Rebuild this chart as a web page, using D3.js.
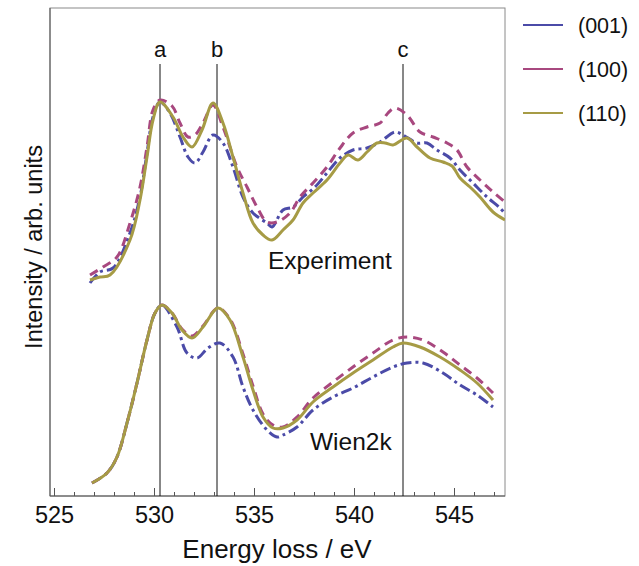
<!DOCTYPE html>
<html>
<head>
<meta charset="utf-8">
<script src="https://cdn.jsdelivr.net/npm/d3@7"></script>
<style>
  body { margin: 0; background: #fff; }
  svg text { font-family: "Liberation Sans", Arial, sans-serif; fill: #111; }
</style>
</head>
<body>
<svg id="chart" width="639" height="566"></svg>
<script>
// series names, colours and dash styles of the legend
var seriesNames = ["(001)", "(100)", "(110)"];
var seriesColors = ["#4b4ba8", "#a8487f", "#a69b45"];
var seriesDash = ["11,4,3,4", "9,6", null];

// experiment spectra, [energy eV, intensity]
var exp001 = [[526.8,53.25],[527.3,56],[527.95,57],[528.8,65.75],[529.3,74.75],[529.65,85.75],[529.95,94.75],[530.3,98.5],[530.8,95.75],[531.3,89.75],[531.7,84.75],[532.05,83.25],[532.45,86],[532.95,90.25],[533.45,88.25],[533.95,82.25],[534.45,74.75],[534.95,70.75],[535.65,68.25],[535.9,67.25],[536.45,71.5],[536.95,72.25],[537.45,74.75],[538.05,77.25],[538.65,80.75],[539.3,84.5],[539.95,86.5],[540.65,87],[541.3,88.5],[542.05,91],[542.45,90.25],[543.15,88.25],[543.65,88.25],[544.15,86.5],[544.8,84.5],[545.3,81.5],[545.95,78.25],[546.65,74.75],[547.3,72],[547.6,70.25]];
var exp100 = [[526.8,55.25],[527.45,57.25],[528.15,59.75],[528.8,68.25],[529.3,77.25],[529.65,87.25],[529.95,96.5],[530.3,99],[530.9,97.5],[531.3,93.25],[531.7,89.75],[532.05,90.25],[532.45,93.25],[532.95,97.75],[533.45,92.25],[534.15,82.25],[534.65,77.25],[535.15,72.25],[535.65,68.5],[536.15,68.5],[536.8,70.75],[537.3,74.75],[537.95,78.25],[538.65,82.25],[539.3,87],[539.95,90.75],[540.65,92.25],[541.3,93.25],[541.7,95.75],[542.05,97],[542.65,95.25],[543.3,91],[543.95,89.75],[544.65,88.25],[545.15,86.5],[545.65,82.25],[546.3,79],[546.95,76],[547.55,73.5]];
var exp110 = [[526.8,54],[527.3,54.75],[527.8,55.25],[528.8,64],[529.3,74],[529.65,84.75],[529.95,94],[530.3,98.5],[530.95,94.75],[531.45,89.75],[531.9,87.25],[532.4,91.5],[532.95,98.25],[533.45,93.25],[533.95,84.75],[534.45,75.75],[534.95,68.25],[535.45,65.25],[535.9,64],[536.45,66.5],[536.95,69],[537.45,73.25],[537.95,75.75],[538.65,79],[539.3,83.25],[539.7,85.25],[540.2,84],[540.65,86],[541.15,88.25],[541.55,88.25],[541.95,87.75],[542.65,89.5],[543.15,87.25],[543.8,84.5],[544.45,83.5],[544.9,82.5],[545.3,79.5],[545.8,77.25],[546.3,74.75],[546.95,71],[547.55,69]];

// Wien2k calculated spectra
var calc001 = [[526.9,3.25],[527.65,5.75],[528.15,9.75],[528.65,18.25],[529.15,28.25],[529.65,39],[530.05,45.75],[530.4,47.75],[531.15,42.25],[531.65,35.75],[532.15,34.5],[532.7,37],[533.3,38.25],[533.95,34.75],[534.45,27.25],[534.95,21.5],[535.65,16.5],[536.15,14.75],[536.45,15.25],[537.15,17.25],[537.95,21.5],[538.95,24.75],[539.95,27],[540.95,29.75],[541.95,32.25],[542.65,33.25],[543.45,33.25],[544.45,30.75],[545.3,27.75],[546.15,25.25],[546.95,22.25]];
var calc100 = [[526.9,3.25],[527.65,5.75],[528.15,9.75],[528.65,18.25],[529.15,28.25],[529.65,39],[530.05,45.75],[530.4,47.75],[530.9,45.75],[531.4,41.75],[531.9,40],[532.45,42.5],[533.2,47],[533.8,44.25],[534.45,35.5],[534.95,27.5],[535.45,20.5],[535.95,17.75],[536.45,17.25],[537.15,19.75],[537.95,24.5],[538.95,28.5],[539.95,32.25],[540.95,35.75],[541.95,39],[542.65,39.75],[543.45,39],[544.45,36],[545.3,32.75],[546.15,29.5],[546.95,25.75]];
var calc110 = [[526.9,3.25],[527.65,5.75],[528.15,9.75],[528.65,18.25],[529.15,28.25],[529.65,39],[530.05,45.75],[530.4,47.75],[530.9,45.75],[531.4,41.5],[531.9,39.5],[532.45,42.25],[533.2,47],[533.8,44],[534.45,34.75],[534.95,26.5],[535.45,19.75],[535.95,17],[536.45,17],[537.15,19],[537.95,23.5],[538.95,27.25],[539.95,30.75],[540.95,34],[541.95,37.25],[542.45,38.25],[543.3,37.25],[544.3,34.75],[545.3,31.5],[546.15,28.25],[546.95,24]];

// marker lines a, b, c
var peakNames = ["a", "b", "c"];
var peakEnergies = [530.3, 533.15, 542.45];

var xTicks = [525, 530, 535, 540, 545];

var svg = d3.select("#chart");
var frame = { left: 50, top: 8, right: 505, bottom: 496 };

var x = d3.scaleLinear().domain([524.8, 547.55]).range([frame.left, frame.right]);
var y = d3.scaleLinear().domain([0, 122]).range([frame.bottom, frame.top]);

// plot frame
svg.append("rect")
    .attr("x", frame.left).attr("y", frame.top)
    .attr("width", frame.right - frame.left).attr("height", frame.bottom - frame.top)
    .attr("fill", "none").attr("stroke", "#8a8a8a").attr("stroke-width", 1);

// bottom axis, ticks point inward
var xAxis = svg.append("g").attr("transform", "translate(0," + frame.bottom + ")");
xAxis.call(d3.axisBottom(x).tickValues(d3.range(525, 548, 1)).tickSize(-4).tickFormat(""))
    .call(function(g) { g.select(".domain").remove(); });
xAxis.append("g")
    .call(d3.axisBottom(x).tickValues(xTicks).tickSize(-8).tickPadding(10).tickFormat(d3.format("d")))
    .call(function(g) { g.select(".domain").remove(); })
    .selectAll("text").style("font-size", "23.5px").attr("fill", "#111");
xAxis.selectAll("line").attr("stroke", "#555");
svg.append("line")
    .attr("x1", frame.left).attr("x2", frame.right)
    .attr("y1", frame.bottom).attr("y2", frame.bottom)
    .attr("stroke", "#555");
svg.append("line")
    .attr("x1", frame.left).attr("x2", frame.left)
    .attr("y1", frame.top).attr("y2", frame.bottom)
    .attr("stroke", "#555");

svg.append("text")
    .attr("x", 277).attr("y", 558)
    .attr("text-anchor", "middle").style("font-size", "26px")
    .text("Energy loss / eV");

svg.append("text")
    .attr("transform", "translate(42,247) rotate(-90)")
    .attr("text-anchor", "middle").style("font-size", "23.5px")
    .text("Intensity / arb. units");

// vertical marker lines
peakEnergies.forEach(function(e, i) {
  svg.append("line")
      .attr("x1", x(e)).attr("x2", x(e))
      .attr("y1", 64).attr("y2", frame.bottom)
      .attr("stroke", "#111").attr("stroke-width", 1);
  svg.append("text")
      .attr("x", x(e)).attr("y", 57)
      .attr("text-anchor", "middle").style("font-size", "22px")
      .text(peakNames[i]);
});

var line = d3.line()
    .x(function(d) { return x(d[0]); })
    .y(function(d) { return y(d[1]); })
    .curve(d3.curveCatmullRom.alpha(0.5));

svg.append("clipPath").attr("id", "plotclip")
    .append("rect")
    .attr("x", frame.left).attr("y", frame.top)
    .attr("width", frame.right - frame.left).attr("height", frame.bottom - frame.top);

var groups = [[exp001, exp100, exp110], [calc001, calc100, calc110]];
var g = svg.append("g").attr("clip-path", "url(#plotclip)");
groups.forEach(function(set) {
  set.forEach(function(data, i) {
    g.append("path")
        .datum(data)
        .attr("d", line)
        .attr("fill", "none")
        .attr("stroke", seriesColors[i])
        .attr("stroke-width", 3)
        .attr("stroke-dasharray", seriesDash[i])
        .attr("stroke-linejoin", "round");
  });
});

svg.append("text").attr("x", 268).attr("y", 269).style("font-size", "24.5px").text("Experiment");
svg.append("text").attr("x", 310).attr("y", 450).style("font-size", "24.5px").text("Wien2k");

// legend
seriesNames.forEach(function(name, i) {
  var ly = 25 + i * 44;
  svg.append("line")
      .attr("x1", 523).attr("x2", 563)
      .attr("y1", ly).attr("y2", ly)
      .attr("stroke", seriesColors[i]).attr("stroke-width", 1.8);
  svg.append("text")
      .attr("x", 578).attr("y", ly + 8)
      .style("font-size", "21.5px")
      .text(name);
});
</script>
</body>
</html>
